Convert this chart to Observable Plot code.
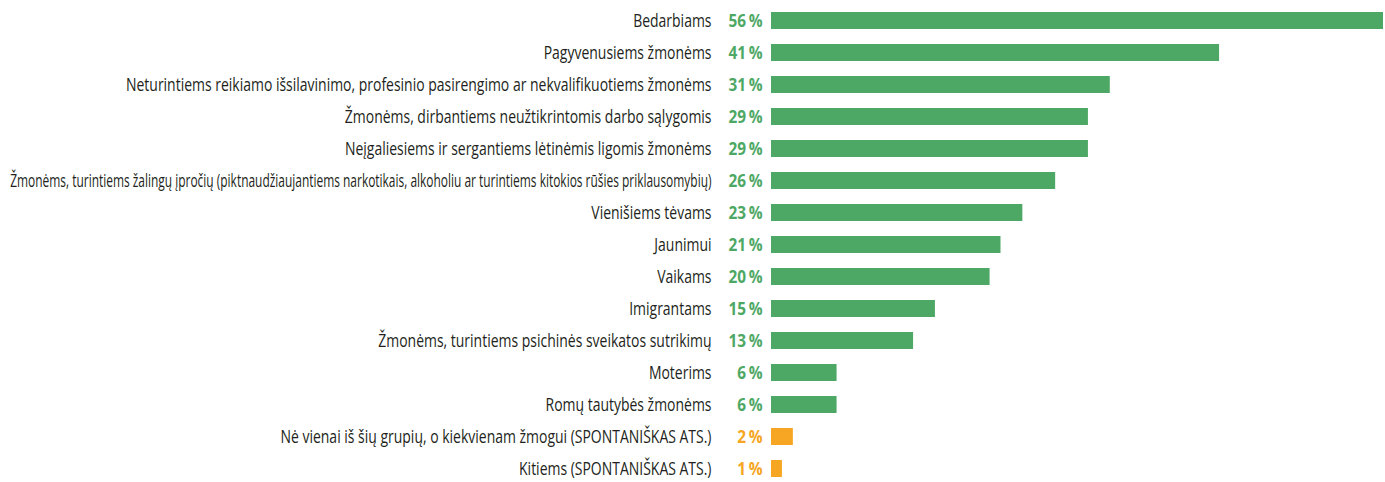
<!DOCTYPE html>
<html><head><meta charset="utf-8">
<script src="https://cdn.jsdelivr.net/npm/d3@7"></script>
<script src="https://cdn.jsdelivr.net/npm/@observablehq/plot@0.6"></script>
<style>
body{margin:0;background:#fff;}
svg{font-family:"Open Sans","Noto Sans",sans-serif;}
</style></head><body>
<div id="chart"></div>
<script>
const categories = [
  "Bedarbiams",
  "Pagyvenusiems žmonėms",
  "Neturintiems reikiamo išsilavinimo, profesinio pasirengimo ar nekvalifikuotiems žmonėms",
  "Žmonėms, dirbantiems neužtikrintomis darbo sąlygomis",
  "Neįgaliesiems ir sergantiems lėtinėmis ligomis žmonėms",
  "Žmonėms, turintiems žalingų įpročių (piktnaudžiaujantiems narkotikais, alkoholiu ar turintiems kitokios rūšies priklausomybių)",
  "Vienišiems tėvams",
  "Jaunimui",
  "Vaikams",
  "Imigrantams",
  "Žmonėms, turintiems psichinės sveikatos sutrikimų",
  "Moterims",
  "Romų tautybės žmonėms",
  "Nė vienai iš šių grupių, o kiekvienam žmogui (SPONTANIŠKAS ATS.)",
  "Kitiems (SPONTANIŠKAS ATS.)"
];
const values = [56, 41, 31, 29, 29, 26, 23, 21, 20, 15, 13, 6, 6, 2, 1];
const groups = ["main","main","main","main","main","main","main","main","main","main","main","main","main","spont","spont"];
const colors = {main: "#4EA865", spont: "#F6A623"};

const data = categories.map((c, i) => ({cat: c, value: values[i], group: groups[i]}));

const chart = Plot.plot({
  width: 1385,
  height: 482,
  marginLeft: 771,
  marginRight: 2,
  marginTop: 0,
  marginBottom: 0,
  x: {domain: [0, 56], axis: null},
  y: {domain: categories, range: [4.5, 484.5], paddingInner: 0.47, paddingOuter: 0.235, axis: null},
  color: {domain: Object.keys(colors), range: Object.values(colors)},
  marks: [
    Plot.barX(data, {x: "value", y: "cat", fill: "group"}),
    Plot.text(data, {x: 0, y: "cat", text: "cat", dx: -60, textAnchor: "end", fill: "#231F20", fontSize: 17.5}),
    Plot.text(data, {x: 0, y: "cat", text: d => d.value + "\u2009%", fill: "group", dx: -9, textAnchor: "end", fontSize: 17.5, fontWeight: "bold"})
  ]
});
document.getElementById("chart").appendChild(chart);

// emulate a condensed typeface: squeeze each text horizontally around its end anchor
function condense(t, s) {
  const b = t.getBBox();
  const ax = b.x + b.width;
  const prev = t.getAttribute("transform") || "";
  t.setAttribute("transform", `${prev} translate(${ax},0) scale(${s},1) translate(${-ax},0)`);
}
const maxLabelWidth = 702;
const allTexts = Array.from(chart.querySelectorAll("text"));
const catSet = new Set(categories);
const catTexts = allTexts.filter(t => catSet.has(t.textContent));
const valTexts = allTexts.filter(t => !catSet.has(t.textContent) && /%$/.test(t.textContent));
if (catTexts.length) {
  const longest = d3.max(catTexts, t => t.getComputedTextLength());
  const s = 821 / longest;
  catTexts.forEach(t => {
    const w = t.getComputedTextLength();
    condense(t, Math.min(s, maxLabelWidth / w));
  });
}
if (valTexts.length) {
  const s2 = 34 / valTexts[0].getComputedTextLength();
  valTexts.forEach(t => condense(t, s2));
}
</script>
</body></html>
